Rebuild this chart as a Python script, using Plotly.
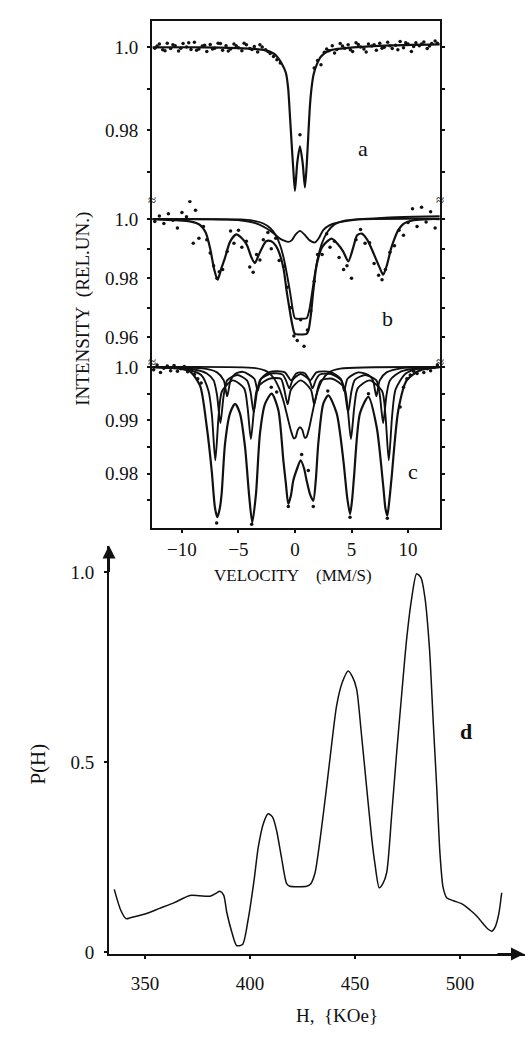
import plotly.graph_objects as go

W, H = 525, 1037

# ---------------- Panel a (velocity mm/s, relative intensity) ----------------
va_fit = [-12.6, -8, -4, -2.5, -1.9, -1.6, -1.2, -0.8, -0.6, -0.44, -0.3, -0.15, 0.0, 0.2,
          0.44, 0.68, 0.88, 1.05, 1.2, 1.33, 1.48, 1.65, 1.95, 2.3, 3.0, 4.5, 8, 12.8]
ia_fit = [1.0, 1.0, 0.9997, 0.9992, 0.9985, 0.9978, 0.9962, 0.9938, 0.990, 0.9832, 0.977, 0.9706,
          0.9654, 0.9721, 0.9761, 0.9721, 0.9662, 0.9722, 0.980, 0.9862, 0.9905, 0.9935, 0.996,
          0.9978, 0.9992, 0.9998, 1.0004, 1.0007]

va_dots = [-12.4, -12.0, -11.7, -11.3, -11.0, -10.6, -10.3, -9.9, -9.6, -9.2,
           -8.9, -8.5, -8.2, -7.8, -7.5, -7.1, -6.8, -6.4, -6.1, -5.7,
           -5.4, -5.0, -4.7, -4.3, -4.0, -3.6, -3.3, -2.9, -2.6, -2.2,
           -1.9, -1.6, -1.3, 0.44, 1.7, 2.0, 2.3, 2.6, 3.0, 3.3,
           3.7, 4.0, 4.4, 4.7, 5.1, 5.4, 5.8, 6.1, 6.5, 6.8,
           7.2, 7.5, 7.9, 8.2, 8.6, 8.9, 9.3, 9.6, 10.0, 10.3,
           10.7, 11.0, 11.4, 11.7, 12.1, 12.4,
           -12.2, -11.5, -10.8, -10.1, -9.4, -8.7, -8.0, -7.3, -6.6, -5.9,
           -5.2, -4.5, -3.8, -3.1, -2.4, 2.8, 3.5, 4.2, 4.9, 5.6,
           6.3, 7.0, 7.7, 8.4, 9.1, 9.8, 10.5, 11.2, 11.9, 12.6]
ia_dots = [0.9998, 1.0008, 0.9994, 1.0010, 0.9997, 1.0004, 0.9991, 1.0009, 1.0001, 0.9995,
           1.0012, 0.9996, 1.0003, 0.9990, 1.0007, 0.9998, 1.0010, 0.9993, 1.0004, 0.9996,
           1.0008, 0.9999, 0.9992, 1.0006, 0.9997, 1.0002, 0.9989, 1.0001, 0.9994, 0.9985,
           0.9978, 0.9970, 0.9962, 0.9789, 0.9950, 0.9968, 0.9958, 0.9988, 0.9992, 1.0004,
           0.9995, 1.0009, 0.9998, 1.0006, 0.9990, 1.0011, 1.0001, 0.9996, 1.0008, 1.0003,
           0.9993, 1.0010, 1.0000, 1.0012, 0.9997, 1.0005, 1.0014, 0.9999, 1.0008, 0.9990,
           1.0011, 1.0004, 1.0013, 0.9997, 1.0009, 1.0015,
           1.0003, 0.9992, 1.0006, 0.9998, 1.0011, 0.9993, 1.0005, 0.9996, 1.0009, 0.9991,
           1.0004, 1.0010, 0.9995, 1.0006, 0.9990, 0.9996, 0.9986, 1.0003, 0.9994, 1.0007,
           0.9989, 1.0006, 0.9998, 1.0004, 0.9994, 1.0011, 1.0002, 1.0008, 1.0003, 1.0010]

# ---------------- Panel b ----------------
vb_tot = [-12.6, -10.5, -9.3, -8.4, -7.9, -7.5, -7.15, -6.85, -6.5, -6.2, -5.75, -5.2, -4.7, -4.25,
          -3.85, -3.55, -3.25, -2.95, -2.55, -2.1, -1.7, -1.33, -1.0, -0.74, -0.5, -0.3, -0.1, 0.0,
          0.5, 1.03, 1.2, 1.38, 1.62, 1.85, 2.06, 2.4, 2.8, 3.24, 3.8, 4.27, 4.72, 5.16, 5.5, 5.9,
          6.4, 7.0, 7.5, 7.8, 8.1, 8.5, 8.7, 9.1, 9.6, 10.5, 11.9, 12.8]
ib_tot = [1.0, 0.9996, 0.9992, 0.998, 0.9955, 0.990, 0.983, 0.9795, 0.9835, 0.9868, 0.9923, 0.9948,
          0.9935, 0.9912, 0.987, 0.9851, 0.9875, 0.990, 0.9925, 0.9925, 0.991, 0.9879, 0.983, 0.9757,
          0.970, 0.9655, 0.962, 0.9612, 0.9610, 0.9612, 0.9625, 0.9668, 0.9757, 0.983, 0.9868,
          0.9905, 0.9923, 0.9934, 0.9915, 0.989, 0.9857, 0.9905, 0.9945, 0.9951, 0.993, 0.988,
          0.9835, 0.9812, 0.984, 0.990, 0.9923, 0.996, 0.9984, 0.9996, 1.0, 1.0]

vb_dbl = [-12.6, -4.5, -3.5, -2.8, -2.2, -1.7, -1.3, -0.95, -0.65, -0.4, -0.2, 0.0, 0.5, 1.03,
          1.25, 1.45, 1.7, 2.0, 2.4, 2.9, 3.5, 4.3, 5.5, 12.8]
ib_dbl = [1.0, 0.9998, 0.9993, 0.9985, 0.997, 0.9945, 0.991, 0.986, 0.980, 0.9745, 0.9695, 0.9665,
          0.9663, 0.9665, 0.969, 0.9735, 0.980, 0.9865, 0.992, 0.9958, 0.9982, 0.9994, 0.9999, 1.0002]

vb_brd = [-12.6, -9.5, -7.5, -6, -4.9, -4.0, -3.2, -2.5, -1.9, -1.33, -0.9, -0.6, -0.3, 0.0, 0.44,
          0.9, 1.3, 1.77, 2.1, 2.5, 3.0, 4.0, 5.0, 6.0, 8.0, 10.5, 12.8]
ib_brd = [1.0, 1.0, 0.9999, 0.9998, 0.9996, 0.9991, 0.9982, 0.9968, 0.9952, 0.9934, 0.9926, 0.9923,
          0.9928, 0.9945, 0.996, 0.9945, 0.9928, 0.9921, 0.9935, 0.9963, 0.9978, 0.999, 0.9996,
          1.0, 1.0005, 1.0008, 1.001]

vb_dots = [-12.4, -12.0, -11.6, -11.2, -10.8, -10.4, -10.0, -9.6, -9.3,
           -9.0, -8.8, -8.5, -8.1, -7.8, -7.5, -7.2, -6.9, -6.7, -6.4,
           -6.0, -5.7, -5.4, -5.0, -4.7, -4.3, -4.0, -3.7, -3.4, -3.1,
           -2.8, -2.4, -2.1, -1.7, -1.4, -1.0, -0.7, -0.4, -0.1, 0.2,
           0.5, 0.8, 1.1, 1.4, 1.7, 2.0, 2.4, 2.8, 3.1, 3.5,
           3.9, 4.3, 4.6, 5.0, 5.4, 5.8, 6.2, 6.6, 7.0, 7.4,
           7.7, 8.0, 8.4, 8.8, 9.2, 9.6, 10.0, 10.4, 10.8, 11.2,
           11.6, 12.0, 12.4]
ib_dots = [0.9992, 1.0010, 0.9985, 1.0018, 0.9996, 0.9970, 1.0022, 1.0008, 1.0059,
           0.9918, 1.0030, 0.9935, 0.9975, 0.9930, 0.9885, 0.9842, 0.9800, 0.9822, 0.9830,
           0.9890, 0.9960, 0.9918, 0.9962, 0.9905, 0.9925, 0.9838, 0.9820, 0.9880, 0.9862,
           0.9930, 0.9955, 0.9900, 0.9935, 0.9860, 0.9840, 0.9770, 0.9700, 0.9605, 0.9590,
           0.9660, 0.9570, 0.9625, 0.9690, 0.9790, 0.9880, 0.9880, 0.9950, 0.9905, 0.9925,
           0.9870, 0.9830, 0.9842, 0.9800, 0.9930, 0.9965, 0.9918, 0.9920, 0.9850, 0.9810,
           0.9795, 0.9830, 0.9888, 0.9910, 0.9962, 0.9945, 0.9988, 1.0035, 0.9975, 1.0040,
           0.9990, 1.0025, 0.9970]

# ---------------- Panel c ----------------
vc_tot = [-12.6, -10.5, -9.3, -8.4, -7.8, -7.37, -7.08, -6.87, -6.65, -6.49, -6.19, -5.75, -5.3,
          -4.87, -4.42, -4.07, -3.78, -3.45, -3.1, -2.65, -2.06, -1.47, -1.03, -0.8, -0.59, -0.35,
          -0.15, 0.2, 0.5, 0.8, 1.03, 1.35, 1.62, 1.85, 2.06, 2.5, 2.95, 3.69, 4.28, 4.62, 4.87,
          5.05, 5.22, 5.75, 6.49, 7.23, 7.82, 8.0, 8.17, 8.35, 8.55, 9.14, 9.88, 11.06, 12.8]
ic_tot = [1.0, 0.9998, 0.9992, 0.9965, 0.9887, 0.9806, 0.9736, 0.9718, 0.9735, 0.9762, 0.9856,
          0.9913, 0.9931, 0.9913, 0.985, 0.9762, 0.9708, 0.9762, 0.9875, 0.9931, 0.995, 0.9919,
          0.9825, 0.978, 0.9743, 0.976, 0.9787, 0.981, 0.9825, 0.981, 0.9787, 0.976, 0.9749, 0.979,
          0.9856, 0.9931, 0.9947, 0.9913, 0.9825, 0.9755, 0.9724, 0.975, 0.9793, 0.9913, 0.9944,
          0.9887, 0.9774, 0.9735, 0.9721, 0.975, 0.9793, 0.9919, 0.9975, 0.9994, 1.0]

vc_s1 = [-12.6, -9.5, -8.3, -7.65, -7.35, -7.05, -6.75, -6.45, -5.5, -4.5, -4.2, -3.9, -3.6, -3.3,
         -2.3, -1.25, -0.95, -0.65, -0.35, 0.5, 1.4, 1.7, 2.0, 2.3, 3.3, 4.35, 4.65, 4.95, 5.25,
         5.55, 6.6, 7.7, 8.0, 8.3, 8.6, 8.9, 9.8, 11, 12.8]
ic_s1 = [1.0, 0.9995, 0.9985, 0.9955, 0.991, 0.9825, 0.991, 0.9955, 0.9975, 0.996, 0.9925, 0.9865,
         0.9925, 0.9962, 0.9978, 0.9978, 0.9958, 0.993, 0.9958, 0.9975, 0.9958, 0.993, 0.9958,
         0.9975, 0.9978, 0.9962, 0.9925, 0.9865, 0.9925, 0.996, 0.9975, 0.9955, 0.991, 0.9825,
         0.991, 0.9958, 0.9988, 0.9997, 1.0]

vc_s2 = [-12.6, -9.0, -7.8, -7.2, -6.9, -6.6, -6.3, -6.0, -5.1, -4.25, -3.95, -3.65, -3.35, -3.05,
         -2.1, -1.1, -0.8, -0.5, -0.2, 0.5, 1.25, 1.55, 1.85, 2.2, 3.2, 4.1, 4.4, 4.7, 5.0, 5.3,
         6.2, 7.2, 7.5, 7.8, 8.1, 8.4, 9.4, 11, 12.8]
ic_s2 = [1.0, 0.9996, 0.9988, 0.9975, 0.9948, 0.9895, 0.9948, 0.9975, 0.9985, 0.9975, 0.9955,
         0.9915, 0.9955, 0.9977, 0.9988, 0.9986, 0.9975, 0.996, 0.9976, 0.9987, 0.9976, 0.996,
         0.9976, 0.9986, 0.9987, 0.9975, 0.9955, 0.9915, 0.9955, 0.9976, 0.9985, 0.9975, 0.9948,
         0.9895, 0.9948, 0.9975, 0.9992, 0.9998, 1.0]

vc_s3 = [-12.6, -8.0, -6.9, -6.3, -6.0, -5.7, -5.3, -4.6, -3.6, -3.3, -3.0, -2.2, -0.9, -0.35, 0.1,
         0.5, 0.9, 1.35, 1.9, 3.1, 4.05, 4.35, 4.65, 5.6, 6.5, 6.9, 7.2, 7.5, 8.1, 9.5, 12.8]
ic_s3 = [1.0, 0.9997, 0.999, 0.9975, 0.9945, 0.9975, 0.9987, 0.9991, 0.9978, 0.9955, 0.9978,
         0.9991, 0.999, 0.9975, 0.9988, 0.999, 0.9988, 0.9975, 0.999, 0.9991, 0.9978, 0.9955,
         0.9978, 0.999, 0.9985, 0.9975, 0.9945, 0.9975, 0.999, 0.9998, 1.0]

vc_dbl = [-12.6, -3.5, -2.5, -1.9, -1.4, -1.0, -0.65, -0.35, -0.1, 0.05, 0.25, 0.44, 0.65, 0.85,
          1.0, 1.25, 1.55, 1.9, 2.4, 3.0, 4.0, 12.8]
ic_dbl = [1.0, 0.9998, 0.9992, 0.998, 0.996, 0.9935, 0.9905, 0.988, 0.9866, 0.9868, 0.9882,
          0.9887, 0.9882, 0.9868, 0.9868, 0.9885, 0.9915, 0.9948, 0.9975, 0.999, 0.9997, 1.0]

vc_dots = [-12.5, -12.2, -11.9, -11.6, -11.3, -11.0, -10.7, -10.4, -10.1, -9.8, -9.5, -9.2, -8.9,
           -8.6, -8.3, -6.93, -3.83, -2.1, -1.62, -0.59, 0.59, 1.18, 1.62, 2.9, 4.87, 6.5, 8.17,
           9.3, 9.6, 9.9, 10.2, 10.5, 10.8, 11.1, 11.4, 11.7, 12.0, 12.3, 12.6]
ic_dots = [0.9995, 1.0004, 0.9990, 0.9998, 1.0002, 0.9993, 1.0003, 0.9992, 0.9997, 1.0001, 0.9991,
           0.9996, 0.9986, 0.9978, 0.9970, 0.9707, 0.9705, 0.9962, 0.9953, 0.9738, 0.9836, 0.9806,
           0.9738, 0.9955, 0.9718, 0.9950, 0.9716, 0.9925, 0.9962, 0.9978, 0.9985, 0.9992, 0.9988,
           0.9995, 0.9990, 0.9997, 0.9993, 0.9999, 1.0004]

# ---------------- Panel d: field distribution ----------------
h_vals = [335.4, 338.5, 341, 343, 350, 357, 364, 371.4, 376, 381, 384, 385.7, 387.5, 389, 391.5,
          393.7, 396.5, 399.2, 402, 404, 406.5, 408.7, 410.8, 412.7, 415, 417.5, 419, 423, 427,
          429, 431, 433.5, 436.5, 439, 441.3, 444, 446.8, 448.8, 450.8, 453, 455.6, 458, 459.5,
          461.6, 463.3, 465.1, 467.5, 469.8, 472.3, 474.6, 477, 479.4, 481.5, 483.3, 485.5, 487.3,
          489, 490.5, 492, 493.7, 497, 501.6, 505, 508, 511, 513.5, 515.2, 516.7, 518.5, 519.9]
p_vals = [0.165, 0.11, 0.088, 0.09, 0.1, 0.115, 0.13, 0.149, 0.148, 0.147, 0.155, 0.16, 0.15, 0.104,
          0.05, 0.017, 0.02, 0.087, 0.19, 0.277, 0.34, 0.364, 0.355, 0.32, 0.25, 0.18, 0.173, 0.172,
          0.173, 0.18, 0.208, 0.3, 0.433, 0.55, 0.649, 0.71, 0.74, 0.725, 0.693, 0.58, 0.433, 0.3,
          0.234, 0.169, 0.18, 0.208, 0.36, 0.519, 0.68, 0.822, 0.93, 0.996, 0.985, 0.935, 0.8,
          0.606, 0.43, 0.26, 0.17, 0.143, 0.135, 0.125, 0.11, 0.095, 0.075, 0.06, 0.055, 0.065,
          0.1, 0.156]

vel_ticks = [-10, -5, 0, 5, 10]
vel_ticktext = ["\u221210", "\u22125", "0", "5", "10"]
h_ticks = [350, 400, 450, 500]
p_ticks = [0, 0.5, 1.0]
p_ticktext = ["0", "0.5", "1.0"]

# ---------------- layout helpers ----------------
def px(x):
    return x / W

def py(y):
    return 1 - y / H

SERIF = "Liberation Serif"
INK = "#111111"
tickfont = dict(family=SERIF, size=19, color=INK)

fig = go.Figure()

def line(x, y, ax, width=2.2):
    xa, ya = ax
    fig.add_trace(go.Scatter(x=x, y=y, mode="lines", xaxis=xa, yaxis=ya,
                             line=dict(color=INK, width=width, shape="spline", smoothing=0.7),
                             hoverinfo="skip"))

def dots(x, y, ax):
    xa, ya = ax
    fig.add_trace(go.Scatter(x=x, y=y, mode="markers", xaxis=xa, yaxis=ya,
                             marker=dict(color=INK, size=3.5), hoverinfo="skip"))

A = ("x", "y"); B = ("x2", "y2"); C = ("x3", "y3"); D = ("x4", "y4")

line(va_fit, ia_fit, A)
dots(va_dots, ia_dots, A)

line(vb_brd, ib_brd, B, 1.9)
line(vb_dbl, ib_dbl, B, 1.9)
line(vb_tot, ib_tot, B)
dots(vb_dots, ib_dots, B)

line(vc_s3, ic_s3, C, 1.9)
line(vc_s2, ic_s2, C, 1.9)
line(vc_s1, ic_s1, C, 1.9)
line(vc_dbl, ic_dbl, C, 1.9)
line(vc_tot, ic_tot, C)
dots(vc_dots, ic_dots, C)

line(h_vals, p_vals, D, 1.5)

xdom = [px(152), px(440)]
vel_range = [-12.65, 12.83]
common_y = dict(showline=True, linewidth=2, linecolor=INK, mirror="ticks", ticks="outside",
                ticklen=3, tickwidth=2, tickcolor=INK, showgrid=False, zeroline=False,
                tickfont=tickfont, ticklabelstandoff=5)

fig.update_layout(
    width=W, height=H, margin=dict(l=0, r=0, t=0, b=0),
    paper_bgcolor="white", plot_bgcolor="rgba(0,0,0,0)", showlegend=False,
    font=dict(family=SERIF, color=INK),
    xaxis=dict(domain=xdom, range=vel_range, anchor="y", side="top", showline=True, linewidth=2,
               linecolor=INK, showticklabels=False, ticks="", showgrid=False, zeroline=False),
    yaxis=dict(domain=[py(198), py(16)], range=[0.9631, 1.0064], anchor="x",
               tickvals=[0.97, 0.98, 0.99, 1.0], ticktext=["", "0.98", "", "1.0"], **common_y),
    xaxis2=dict(domain=xdom, range=vel_range, anchor="y2", visible=False),
    yaxis2=dict(domain=[py(362), py(198)], range=[0.95167, 1.00633], anchor="x2",
                tickvals=[0.96, 0.97, 0.98, 0.99, 1.0], ticktext=["0.96", "", "0.98", "", "1.0"],
                **common_y),
    xaxis3=dict(domain=xdom, range=vel_range, anchor="y3", showline=True, linewidth=2,
                linecolor=INK, ticks="outside", ticklen=3, tickwidth=2, tickcolor=INK,
                tickvals=vel_ticks, ticktext=vel_ticktext, tickfont=tickfont,
                showgrid=False, zeroline=False, ticklabelstandoff=0),
    yaxis3=dict(domain=[py(530), py(362)], range=[0.96981, 1.00093], anchor="x3",
                tickvals=[0.975, 0.98, 0.985, 0.99, 0.995, 1.0],
                ticktext=["", "0.98", "", "0.99", "", "1.0"], **common_y),
    xaxis4=dict(domain=[px(109), 1.0], range=[332.9, 531], anchor="y4", showline=True,
                linewidth=2, linecolor=INK, ticks="outside", ticklen=3, tickwidth=2,
                tickcolor=INK, tickvals=h_ticks, tickfont=dict(family=SERIF, size=19, color=INK),
                showgrid=False, zeroline=False, ticklabelstandoff=8),
    yaxis4=dict(domain=[py(962), py(548)], range=[-0.0052, 1.070], anchor="x4", showline=True,
                linewidth=2, linecolor=INK, ticks="outside", ticklen=3, tickwidth=2,
                tickcolor=INK, tickvals=p_ticks, ticktext=p_ticktext,
                tickfont=dict(family=SERIF, size=19, color=INK),
                showgrid=False, zeroline=False, ticklabelstandoff=6),
)

ann = []
def text(x, y, s, size=18, angle=0, bold=False):
    ann.append(dict(x=px(x), y=py(y), xref="paper", yref="paper", text=("<b>%s</b>" % s) if bold else s,
                    showarrow=False, textangle=angle, xanchor="center", yanchor="middle",
                    font=dict(family=SERIF, size=size, color=INK)))

text(363, 145, "a", 22)
text(387, 318, "b", 22)
text(413, 473, "c", 22)
text(466, 736, "d", 22, bold=True)
text(293, 578, "VELOCITY&nbsp;&nbsp;&nbsp;&nbsp;(MM/S)", 17)
text(83, 308, "INTENSITY&nbsp;&nbsp;(REL.UN.)", 19, angle=-90)
text(38, 770, "P(H)", 21, angle=-90)
text(337, 1024, "H,&nbsp;&nbsp;{KOe}", 19)

# axis break marks
for bx in (152, 440):
    for by in (198, 362):
        text(bx, by, "\u2248", 15)

# axis arrows for panel d
ann.append(dict(x=px(109), y=py(548), xref="paper", yref="paper", text="", showarrow=True,
                ax=0, ay=28, arrowhead=2, arrowsize=1.3, arrowwidth=2, arrowcolor=INK))
ann.append(dict(x=px(524), y=py(962), xref="paper", yref="paper", text="", showarrow=True,
                ax=-28, ay=0, arrowhead=2, arrowsize=1.3, arrowwidth=2, arrowcolor=INK))

fig.update_layout(annotations=ann)
fig.write_html("out.html")
